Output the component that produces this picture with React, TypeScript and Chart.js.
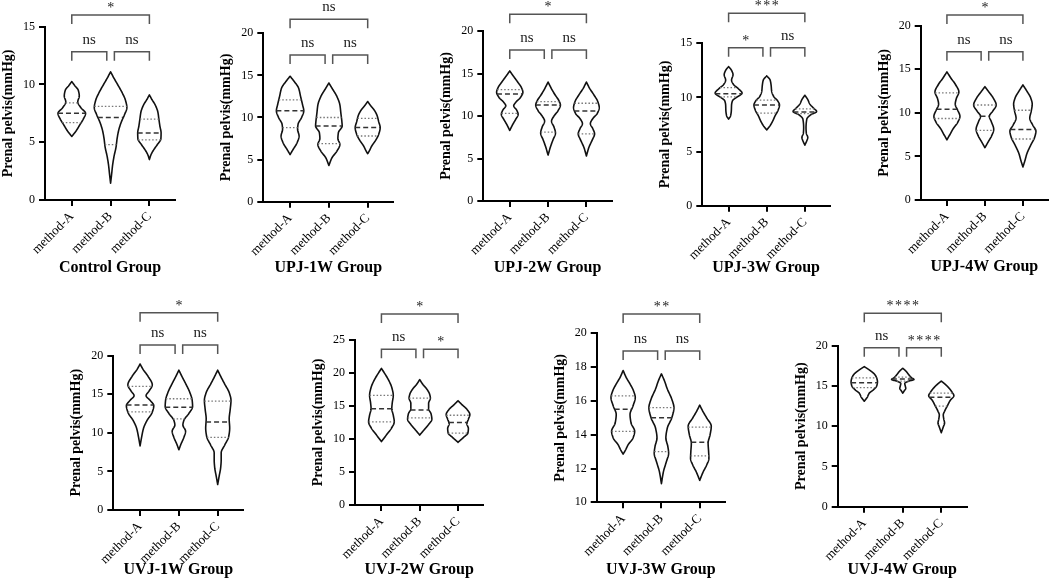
import React, { useEffect, useRef } from 'react';
import { Chart, registerables } from 'chart.js';

Chart.register(...registerables);

const SERIF = '"Liberation Serif", "Times New Roman", Times, serif';

// ---------- data ----------
const CATEGORIES = ['method-A', 'method-B', 'method-C'];
const GROUP_TITLES = [
  'Control Group', 'UPJ-1W Group', 'UPJ-2W Group', 'UPJ-3W Group', 'UPJ-4W Group',
  'UVJ-1W Group', 'UVJ-2W Group', 'UVJ-3W Group', 'UVJ-4W Group',
];
const Y_TITLE = 'Prenal pelvis(mmHg)';
const Y_MIN = [0, 0, 0, 0, 0, 0, 0, 10, 0];
const Y_MAX = [15, 20, 20, 15, 20, 20, 25, 20, 20];
const Y_STEP = [5, 5, 5, 5, 5, 5, 5, 2, 5];

const Q3 = [
  [8.4, 8.1, 7.0], [12.1, 10.0, 9.9], [13.1, 11.7, 11.5], [10.9, 9.75, 8.95], [12.3, 10.9, 10.3],
  [16.0, 14.4, 14.1], [16.6, 16.2, 13.6], [16.3, 15.6, 14.45], [16.0, 16.1, 14.1],
];
const MEDIANS = [
  [7.5, 7.15, 5.8], [10.8, 9.0, 8.8], [12.6, 11.3, 10.6], [10.35, 9.3, 8.65], [10.4, 9.6, 8.1],
  [13.6, 13.3, 11.4], [14.6, 14.4, 12.5], [15.5, 15.0, 13.55], [15.4, 15.85, 13.6],
];
const Q1 = [
  [6.7, 4.8, 5.2], [8.8, 6.9, 7.8], [10.3, 8.1, 7.9], [10.05, 8.55, 8.5], [9.35, 8.0, 7.0],
  [12.7, 11.8, 9.4], [12.6, 13.2, 10.9], [14.2, 13.0, 12.75], [14.8, 15.6, 12.5],
];

const SIG_AB = ['ns', 'ns', 'ns', '*', 'ns', 'ns', 'ns', 'ns', 'ns'];
const SIG_BC = ['ns', 'ns', 'ns', 'ns', 'ns', 'ns', '*', 'ns', '****'];
const SIG_AC = ['*', 'ns', '*', '***', '*', '*', '*', '**', '****'];

// density profiles: [value, relative density]
const DENSITY_CONTROL = [
  [[10.25, 0], [9.9, 3], [9.5, 6.5], [9.0, 7.5], [8.5, 6], [8.0, 9], [7.5, 13.8], [7.0, 11.5], [6.5, 8], [6.0, 4.5], [5.5, 0]],
  [[11.1, 0], [10.6, 3], [10.0, 7], [9.3, 11.5], [8.6, 15], [8.0, 16.3], [7.4, 14], [6.7, 10.5], [6.0, 8], [5.3, 6.5], [4.6, 5.5], [3.8, 3.5], [3.0, 2], [2.2, 1], [1.45, 0]],
  [[9.1, 0], [8.7, 2.5], [8.2, 6], [7.6, 8.5], [7.0, 9.5], [6.4, 10.5], [5.8, 11.7], [5.3, 11.5], [4.8, 8], [4.3, 4], [3.9, 1.5], [3.5, 0]],
];
const DENSITY_UPJ1W = [
  [[14.9, 0], [14.3, 4], [13.5, 8.5], [12.5, 10.5], [11.5, 12.5], [10.8, 13.7], [10.0, 11.5], [9.2, 8], [8.6, 7.5], [7.8, 9], [7.0, 7], [6.2, 3], [5.6, 0]],
  [[14.1, 0], [13.5, 3], [12.5, 8], [11.5, 11], [10.5, 12], [9.5, 13], [9.0, 13.3], [8.2, 9.5], [7.5, 9], [6.8, 11], [6.0, 8], [5.2, 3], [4.3, 0]],
  [[11.9, 0], [11.4, 3], [10.8, 7], [10.2, 9.5], [9.5, 11], [8.8, 12.5], [8.0, 11], [7.3, 8], [6.6, 4], [6.0, 1.5], [5.7, 0]],
];
const DENSITY_UPJ2W = [
  [[15.3, 0], [14.8, 3], [14.0, 8], [13.3, 12], [12.8, 13.3], [12.2, 11], [11.6, 6], [11.2, 4], [10.7, 7], [10.2, 8.5], [9.6, 6], [9.0, 3], [8.3, 0]],
  [[14.0, 0], [13.3, 3], [12.5, 7], [11.8, 11], [11.3, 12.5], [10.6, 10], [10.0, 6], [9.4, 3.5], [8.7, 6], [8.0, 7.5], [7.2, 5], [6.4, 2.5], [5.4, 0]],
  [[14.0, 0], [13.3, 3], [12.5, 7.5], [11.7, 11.5], [11.0, 13], [10.3, 11], [9.7, 6.5], [9.1, 4], [8.5, 6.5], [7.9, 8.3], [7.2, 6], [6.3, 2.5], [5.3, 0]],
];
const DENSITY_UPJ3W = [
  [[12.85, 0], [12.5, 3], [12.1, 4.5], [11.6, 3], [11.2, 5], [10.8, 10], [10.4, 13.7], [10.0, 8], [9.7, 4], [9.3, 3], [8.8, 2.8], [8.3, 2], [8.0, 0]],
  [[12.0, 0], [11.6, 3.5], [11.1, 4.5], [10.6, 5], [10.1, 7], [9.7, 11], [9.3, 13], [8.8, 11.5], [8.3, 8.5], [7.8, 6], [7.4, 3.5], [7.0, 0]],
  [[10.2, 0], [9.8, 3], [9.4, 5], [9.0, 9], [8.7, 12], [8.4, 6], [8.0, 2], [7.2, 1.2], [6.7, 1.5], [6.3, 3], [6.0, 2], [5.6, 0]],
];
const DENSITY_UPJ4W = [
  [[14.7, 0], [14.0, 4], [13.2, 9], [12.4, 12.2], [11.6, 9.5], [11.0, 8.5], [10.3, 11], [9.6, 13.3], [8.9, 11], [8.2, 6.5], [7.5, 3], [6.9, 0]],
  [[13.0, 0], [12.4, 4], [11.7, 8.5], [10.9, 11.5], [10.2, 8], [9.6, 4.5], [9.0, 6.5], [8.1, 9], [7.4, 7], [6.7, 3.5], [6.0, 0]],
  [[13.2, 0], [12.5, 4], [11.7, 8], [11.0, 9.5], [10.2, 8.5], [9.4, 7], [8.6, 10], [7.9, 13.3], [7.2, 12], [6.3, 8], [5.3, 4], [4.5, 2], [3.8, 0]],
];
const DENSITY_UVJ1W = [
  [[18.9, 0], [18.2, 3], [17.3, 8], [16.2, 12.2], [15.4, 9], [14.8, 6], [14.2, 10], [13.5, 13.7], [12.6, 12], [11.6, 7], [10.6, 3.5], [9.4, 1.5], [8.3, 0]],
  [[18.1, 0], [17.3, 3], [16.3, 7], [15.2, 11], [14.2, 13.3], [13.4, 13.7], [12.5, 10], [11.6, 5], [11.0, 4], [10.2, 6.7], [9.4, 5], [8.5, 2], [7.8, 0]],
  [[18.1, 0], [17.3, 3], [16.3, 7], [15.2, 11.5], [14.2, 13.3], [13.0, 12.5], [11.8, 11.5], [10.6, 12], [9.5, 11], [8.4, 7], [7.4, 3.5], [6.5, 3.5], [5.5, 3], [4.4, 1.5], [3.3, 0]],
];
const DENSITY_UVJ2W = [
  [[20.7, 0], [20.0, 3], [19.0, 7], [17.8, 10.5], [16.6, 12], [15.5, 11], [14.6, 10.5], [13.6, 12], [12.6, 13], [11.6, 10], [10.8, 6], [10.2, 3], [9.6, 0]],
  [[19.0, 0], [18.3, 3], [17.6, 7], [16.8, 10], [16.2, 10.8], [15.4, 9], [14.6, 9], [13.8, 11.5], [13.0, 12.3], [12.2, 9], [11.4, 4.5], [10.6, 0]],
  [[15.8, 0], [15.2, 4], [14.5, 9], [13.7, 12], [13.0, 10.5], [12.3, 9], [11.6, 10.5], [10.9, 10], [10.3, 6], [9.5, 0]],
];
const DENSITY_UVJ3W = [
  [[17.8, 0], [17.4, 3], [17.0, 7], [16.6, 10.5], [16.2, 12.3], [15.7, 10], [15.2, 7], [14.7, 8], [14.2, 11.7], [13.8, 10], [13.4, 5], [13.1, 2.5], [12.85, 0]],
  [[17.6, 0], [17.2, 3], [16.7, 6], [16.1, 10.5], [15.6, 12.7], [15.0, 10.5], [14.4, 6], [13.8, 4.5], [13.3, 6.5], [12.9, 7.3], [12.4, 5], [11.8, 2], [11.1, 0]],
  [[15.75, 0], [15.4, 3], [15.0, 7], [14.5, 11.7], [14.0, 10.5], [13.5, 8.5], [13.0, 9], [12.6, 9.3], [12.2, 7], [11.8, 3.5], [11.3, 0]],
];
const DENSITY_UVJ4W = [
  [[17.4, 0], [17.0, 5], [16.5, 10], [16.0, 12.5], [15.5, 13.3], [15.0, 12.5], [14.5, 9], [14.1, 5], [13.6, 3], [13.1, 0]],
  [[17.2, 0], [16.8, 3.5], [16.4, 6], [16.0, 9], [15.8, 11.3], [15.6, 6], [15.3, 2], [15.0, 2.5], [14.7, 3], [14.4, 1.5], [14.1, 0]],
  [[15.6, 0], [15.2, 4], [14.7, 8], [14.2, 11], [13.8, 12.7], [13.2, 9], [12.5, 6], [11.9, 3.5], [11.4, 2], [10.9, 2.5], [10.4, 3.3], [9.9, 2], [9.2, 0]],
];
const DENSITIES = [
  DENSITY_CONTROL, DENSITY_UPJ1W, DENSITY_UPJ2W, DENSITY_UPJ3W, DENSITY_UPJ4W,
  DENSITY_UVJ1W, DENSITY_UVJ2W, DENSITY_UVJ3W, DENSITY_UVJ4W,
];

// ---------- layout (page pixels) ----------
const LAYOUT = [
  { L: 45, R: 175, T: 26.7, B: 200, title: 268, low: 51.7, top: 15, row: 0 },
  { L: 263.3, R: 393.3, T: 33.3, B: 201.7, title: 268, low: 55, top: 19.3, row: 0 },
  { L: 483.3, R: 611.7, T: 31, B: 201, title: 268, low: 50, top: 14.3, row: 0 },
  { L: 702.3, R: 830, T: 43.3, B: 205.7, title: 268, low: 47.7, top: 13.3, row: 0 },
  { L: 920.7, R: 1048, T: 25.7, B: 200, title: 267, low: 51.7, top: 15, row: 0 },
  { L: 113.3, R: 243.3, T: 355.5, B: 510, title: 570, low: 345, top: 312.7, row: 1 },
  { L: 355, R: 483.3, T: 340, B: 505, title: 570, low: 349.3, top: 314, row: 1 },
  { L: 596.7, R: 725, T: 333.3, B: 502.3, title: 570, low: 351, top: 314, row: 1 },
  { L: 837.7, R: 966.7, T: 345.7, B: 506.7, title: 570, low: 347.7, top: 313.3, row: 1 },
];
const ROW_TOP = [0, 290];
const PAGE_W = 1052;
const PAGE_H = 579;
const Y_AXIS_W = 45;
const TITLE_SIZE = 16;
const X_MIN = -0.69;
const X_MAX = 2.66;
const DENSITY_UNIT = 1 / 38.8; // x-units per density unit
const BRACKET_GAP = 3.8;
const BRACKET_DROP = 9;

// monotone cubic interpolation of density over value
function makeDensity(profile: number[][]) {
  const pts = [...profile].sort((a, b) => a[0] - b[0]);
  const xs = pts.map((p) => p[0]);
  const ys = pts.map((p) => p[1]);
  const n = xs.length;
  const dx: number[] = [];
  const s: number[] = [];
  for (let i = 0; i < n - 1; i++) {
    dx.push(xs[i + 1] - xs[i]);
    s.push((ys[i + 1] - ys[i]) / dx[i]);
  }
  const t: number[] = new Array(n).fill(0);
  t[0] = s[0];
  t[n - 1] = s[n - 2];
  for (let i = 1; i < n - 1; i++) {
    if (s[i - 1] * s[i] <= 0) t[i] = 0;
    else {
      t[i] = (3 * (dx[i - 1] + dx[i])) / ((2 * dx[i] + dx[i - 1]) / s[i - 1] + (dx[i] + 2 * dx[i - 1]) / s[i]);
    }
  }
  const f = (v: number) => {
    if (v <= xs[0] || v >= xs[n - 1]) return 0;
    let i = 0;
    while (i < n - 2 && v > xs[i + 1]) i++;
    const h = dx[i];
    const u = (v - xs[i]) / h;
    const u2 = u * u;
    const u3 = u2 * u;
    const val =
      (2 * u3 - 3 * u2 + 1) * ys[i] +
      (u3 - 2 * u2 + u) * h * t[i] +
      (-2 * u3 + 3 * u2) * ys[i + 1] +
      (u3 - u2) * h * t[i + 1];
    return Math.max(0, val);
  };
  return { f, lo: xs[0], hi: xs[n - 1] };
}

function violinPlugin(idx: number) {
  return {
    id: 'violins' + idx,
    afterDatasetsDraw(chart: any) {
      const { ctx } = chart;
      const xs = chart.scales.x;
      const ys = chart.scales.y;
      ctx.save();
      DENSITIES[idx].forEach((profile, i) => {
        const { f, lo, hi } = makeDensity(profile);
        const N = 140;
        ctx.beginPath();
        for (let k = 0; k <= N; k++) {
          const v = hi - ((hi - lo) * k) / N;
          const px = xs.getPixelForValue(i + f(v) * DENSITY_UNIT);
          const py = ys.getPixelForValue(v);
          if (k === 0) ctx.moveTo(px, py);
          else ctx.lineTo(px, py);
        }
        for (let k = N; k >= 0; k--) {
          const v = hi - ((hi - lo) * k) / N;
          ctx.lineTo(xs.getPixelForValue(i - f(v) * DENSITY_UNIT), ys.getPixelForValue(v));
        }
        ctx.closePath();
        ctx.setLineDash([]);
        ctx.strokeStyle = '#111';
        ctx.lineWidth = 1.6;
        ctx.lineJoin = 'round';
        ctx.stroke();

        const qLine = (q: number, dash: number[], color: string, lw: number) => {
          const w = f(q) * DENSITY_UNIT;
          const py = ys.getPixelForValue(q);
          ctx.beginPath();
          ctx.moveTo(xs.getPixelForValue(i - w), py);
          ctx.lineTo(xs.getPixelForValue(i + w), py);
          ctx.setLineDash(dash);
          ctx.strokeStyle = color;
          ctx.lineWidth = lw;
          ctx.stroke();
        };
        qLine(Q3[idx][i], [1.5, 2], '#777', 1.3);
        qLine(Q1[idx][i], [1.5, 2], '#777', 1.3);
        qLine(MEDIANS[idx][i], [5, 3], '#333', 1.5);
      });
      ctx.restore();
    },
  };
}

function bracketPlugin(idx: number) {
  return {
    id: 'brackets' + idx,
    afterDraw(chart: any) {
      const { ctx } = chart;
      const xs = chart.scales.x;
      const lay = LAYOUT[idx];
      const top0 = ROW_TOP[lay.row];
      const xa = xs.getPixelForValue(0);
      const xb = xs.getPixelForValue(1);
      const xc = xs.getPixelForValue(2);
      const items = [
        { x1: xa, x2: xb - BRACKET_GAP, y: lay.low - top0, label: SIG_AB[idx] },
        { x1: xb + BRACKET_GAP, x2: xc, y: lay.low - top0, label: SIG_BC[idx] },
        { x1: xa, x2: xc, y: lay.top - top0, label: SIG_AC[idx] },
      ];
      ctx.save();
      items.forEach((b) => {
        ctx.beginPath();
        ctx.moveTo(b.x1, b.y + BRACKET_DROP);
        ctx.lineTo(b.x1, b.y);
        ctx.lineTo(b.x2, b.y);
        ctx.lineTo(b.x2, b.y + BRACKET_DROP);
        ctx.strokeStyle = '#555';
        ctx.lineWidth = 1.5;
        ctx.lineJoin = 'miter';
        ctx.stroke();
        ctx.fillStyle = '#222';
        ctx.textAlign = 'center';
        ctx.textBaseline = 'alphabetic';
        const cx = (b.x1 + b.x2) / 2;
        if (b.label === 'ns') {
          (ctx as any).letterSpacing = '0px';
          ctx.font = `15px ${SERIF}`;
          ctx.fillText(b.label, cx, b.y - 8);
        } else {
          (ctx as any).letterSpacing = '1.5px';
          ctx.font = `14px ${SERIF}`;
          ctx.fillText(b.label, cx + 0.8, b.y - 3);
        }
      });
      ctx.restore();
    },
  };
}

function Panel({ idx }: { idx: number }) {
  const ref = useRef<HTMLCanvasElement>(null);
  const lay = LAYOUT[idx];
  const canvasTop = ROW_TOP[lay.row];
  const canvasLeft = Math.max(0, Math.floor(lay.L - Y_AXIS_W));
  const width = Math.min(Math.ceil(lay.R + 6), PAGE_W) - canvasLeft;
  const height = Math.min(Math.ceil(lay.title + 12), PAGE_H) - canvasTop;
  const padLeft = lay.L - Y_AXIS_W - canvasLeft;
  const padRight = width - (lay.R - canvasLeft);
  const padTop = lay.T - canvasTop;
  const xH = lay.title - lay.B + TITLE_SIZE / 2;
  const padBottom = Math.max(0, height - (lay.B - canvasTop) - xH);

  useEffect(() => {
    if (!ref.current) return;
    const chart = new Chart(ref.current, {
      type: 'scatter',
      data: {
        datasets: [
          {
            data: MEDIANS[idx].map((m, i) => ({ x: i, y: m })),
            pointRadius: 0,
            showLine: false,
          },
        ],
      },
      options: {
        responsive: false,
        animation: false,
        devicePixelRatio: 1,
        events: [],
        layout: { padding: { left: padLeft, right: padRight, top: padTop, bottom: padBottom } },
        plugins: { legend: { display: false }, tooltip: { enabled: false } },
        scales: {
          x: {
            type: 'linear',
            min: X_MIN,
            max: X_MAX,
            afterBuildTicks: (s: any) => {
              s.ticks = CATEGORIES.map((_, i) => ({ value: i }));
            },
            afterFit: (s: any) => {
              s.height = xH;
            },
            ticks: {
              callback: (v: any) => CATEGORIES[v] ?? '',
              minRotation: 45,
              maxRotation: 45,
              autoSkip: false,
              padding: 3,
              color: '#000',
              font: { family: SERIF, size: 13 },
            },
            grid: { drawOnChartArea: false, drawTicks: true, tickLength: 6, color: '#000', lineWidth: 2 },
            border: { display: true, color: '#000', width: 2 },
            title: {
              display: true,
              text: GROUP_TITLES[idx],
              color: '#000',
              padding: 0,
              font: { family: SERIF, size: TITLE_SIZE, weight: 'bold', lineHeight: 1 },
            },
          },
          y: {
            type: 'linear',
            min: Y_MIN[idx],
            max: Y_MAX[idx],
            afterFit: (s: any) => {
              s.width = Y_AXIS_W;
            },
            ticks: {
              stepSize: Y_STEP[idx],
              padding: 4,
              color: '#000',
              font: { family: SERIF, size: 12 },
            },
            grid: { drawOnChartArea: false, drawTicks: true, tickLength: 6, color: '#000', lineWidth: 2 },
            border: { display: true, color: '#000', width: 2 },
            title: {
              display: true,
              text: Y_TITLE,
              color: '#000',
              padding: 0,
              font: { family: SERIF, size: 14, weight: 'bold', lineHeight: 1.2 },
            },
          },
        },
      } as any,
      plugins: [violinPlugin(idx), bracketPlugin(idx)],
    });
    return () => chart.destroy();
  }, []);

  return (
    <canvas
      ref={ref}
      width={width}
      height={height}
      style={{ position: 'absolute', left: canvasLeft, top: canvasTop, width, height }}
    />
  );
}

export default function App() {
  return (
    <div
      style={{
        position: 'absolute',
        left: 0,
        top: 0,
        width: PAGE_W,
        height: PAGE_H,
        overflow: 'hidden',
        background: '#fff',
      }}
    >
      {GROUP_TITLES.map((_, i) => (
        <Panel key={i} idx={i} />
      ))}
    </div>
  );
}
